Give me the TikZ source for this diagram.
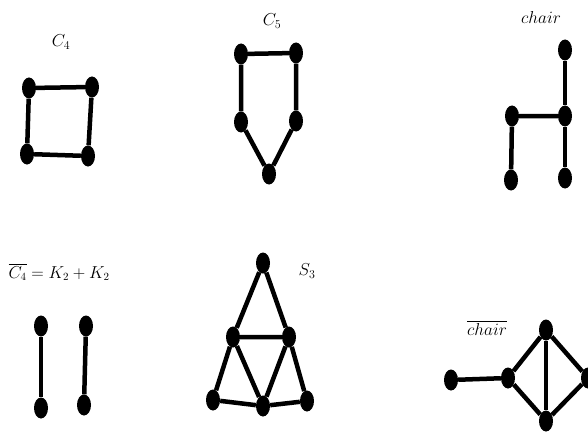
\documentclass[tikz,border=0pt]{standalone}
\usepackage{amsmath}
\usetikzlibrary{shapes.geometric}
\begin{document}
\begin{tikzpicture}[x=1pt,y=-1pt,
  vtx/.style={ellipse,fill=black,inner sep=0pt,minimum width=14pt,minimum height=21pt},
  edge/.style={line width=4.5pt},
  lbl/.style={inner sep=0pt,font=\fontsize{17}{20}\selectfont}]
\useasboundingbox (0,0) rectangle (588,433);
% C4
\node[lbl] (lc4) at (61,42) {$C_4$};
\node[vtx] (a1) at (29,88) {};
\node[vtx] (a2) at (92,87) {};
\node[vtx] (a3) at (27,154) {};
\node[vtx] (a4) at (88,156) {};
\draw[edge] (a1)--(a2)--(a4)--(a3)--(a1);
% C5
\node[lbl] (lc5) at (272,21) {$C_5$};
\node[vtx] (b1) at (241,54) {};
\node[vtx] (b2) at (296,53) {};
\node[vtx] (b3) at (241,122) {};
\node[vtx] (b4) at (296,121) {};
\node[vtx] (b5) at (269,174) {};
\draw[edge] (b1)--(b2)--(b4)--(b5)--(b3)--(b1);
% chair
\node[lbl] (lch) at (541,18) {$chair$};
\node[vtx] (c1) at (565,50) {};
\node[vtx] (c2) at (512,116) {};
\node[vtx] (c3) at (565,116) {};
\node[vtx] (c4) at (511,180) {};
\node[vtx] (c5) at (565,178) {};
\draw[edge] (c1)--(c3)--(c5);
\draw[edge] (c3)--(c2)--(c4);
% C4 bar
\node[lbl,font=\fontsize{16}{19}\selectfont] (lc4b) at (59,272) {$\overline{C_4}=K_2+K_2$};
\node[vtx] (d1) at (41,326) {};
\node[vtx] (d2) at (41,408) {};
\node[vtx] (d3) at (86,326) {};
\node[vtx] (d4) at (84,405) {};
\draw[edge] (d1)--(d2);
\draw[edge] (d3)--(d4);
% S3
\node[lbl] (ls3) at (307,271) {$S_3$};
\node[vtx] (e1) at (263,263) {};
\node[vtx] (e2) at (233,337) {};
\node[vtx] (e3) at (289,337) {};
\node[vtx] (e4) at (213,400) {};
\node[vtx] (e5) at (263,406) {};
\node[vtx] (e6) at (307,401) {};
\draw[edge] (e1)--(e2)--(e3)--(e1);
\draw[edge] (e2)--(e4)--(e5)--(e6)--(e3);
\draw[edge] (e2)--(e5)--(e3);
% chair bar
\node[lbl] (lchb) at (487,328) {$\overline{chair}$};
\node[vtx] (f1) at (451,380) {};
\node[vtx] (f2) at (508,378) {};
\node[vtx] (f3) at (546,330) {};
\node[vtx] (f4) at (588,378) {};
\node[vtx] (f5) at (546,421) {};
\draw[edge] (f1)--(f2)--(f3)--(f4)--(f5)--(f2);
\draw[edge] (f3)--(f5);
\end{tikzpicture}
\end{document}
